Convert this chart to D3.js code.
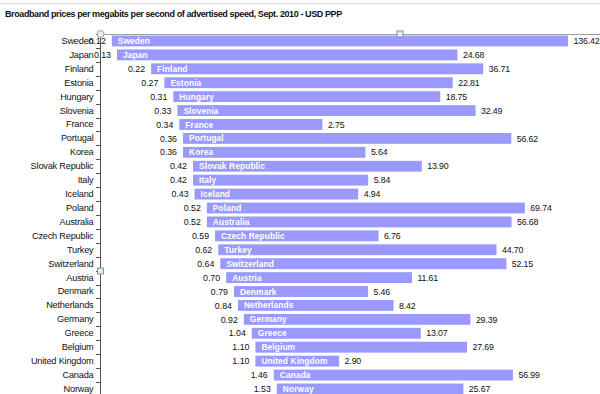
<!DOCTYPE html>
<html lang="en">
<head>
    <meta charset="UTF-8">
    <title>Broadband prices per Mbit/s</title>
    <script src="https://d3js.org/d3.v7.min.js"></script>
    <style>
        body { margin: 0; background: #fff; }
        svg { display: block; font-family: "Liberation Sans", Arial, sans-serif; }
    </style>
</head>
<body>
    <div id="chart"></div>
    <script>
        // countries in display order (top to bottom)
        const countries = ['Sweden', 'Japan', 'Finland', 'Estonia', 'Hungary', 'Slovenia', 'France',
            'Portugal', 'Korea', 'Slovak Republic', 'Italy', 'Iceland', 'Poland', 'Australia',
            'Czech Republic', 'Turkey', 'Switzerland', 'Austria', 'Denmark', 'Netherlands',
            'Germany', 'Greece', 'Belgium', 'United Kingdom', 'Canada', 'Norway'];
        // lowest price (left label, hidden stacked series)
        const lowPrice = [0.12, 0.13, 0.22, 0.27, 0.31, 0.33, 0.34, 0.36, 0.36, 0.42, 0.42, 0.43,
            0.52, 0.52, 0.59, 0.62, 0.64, 0.70, 0.79, 0.84, 0.92, 1.04, 1.10, 1.10, 1.46, 1.53];
        // highest price (right label, visible stacked series)
        const highPrice = [136.42, 24.68, 36.71, 22.81, 18.75, 32.49, 2.75, 56.62, 5.64, 13.90, 5.84, 4.94,
            69.74, 56.68, 6.76, 44.70, 52.15, 11.61, 5.46, 8.42, 29.39, 13.07, 27.69, 2.90, 56.99, 25.67];

        const W = 600, H = 394;
        const rowStep = 13.92;
        const plotTop = 34;

        const svg = d3.select('#chart').append('svg')
            .attr('width', W).attr('height', H);

        // faint sheet frame at the very top
        svg.append('line').attr('x1', 0).attr('x2', W).attr('y1', 3.5).attr('y2', 3.5)
            .attr('stroke', '#d3dae0');

        svg.append('text')
            .attr('x', 5).attr('y', 17)
            .attr('font-size', 9).attr('font-weight', 'bold').attr('fill', '#111')
            .attr('letter-spacing', -0.4)
            .text('Broadband prices per megabits per second of advertised speed, Sept. 2010 - USD PPP');

        const x = d3.scaleLog().domain([0.1, 1000]).range([100, 697]);
        const y = d3.scaleBand().domain(countries)
            .range([plotTop, plotTop + rowStep * countries.length])
            .paddingInner(0.22).paddingOuter(0.11);

        const rows = countries.map((c, i) => ({ name: c, low: lowPrice[i], high: highPrice[i] }));

        // plot area top border
        svg.append('line').attr('x1', 100).attr('x2', W).attr('y1', plotTop + 0.5).attr('y2', plotTop + 0.5)
            .attr('stroke', '#a0a0a0');

        const g = svg.append('g');
        g.selectAll('rect.bar').data(rows).enter().append('rect')
            .attr('class', 'bar')
            .attr('x', d => x(d.low))
            .attr('y', d => y(d.name))
            .attr('width', d => x(d.low + d.high) - x(d.low))
            .attr('height', y.bandwidth())
            .attr('fill', '#9999ff');

        // country name inside bar
        g.selectAll('text.inner').data(rows).enter().append('text')
            .attr('x', d => x(d.low) + 6)
            .attr('y', d => y(d.name) + y.bandwidth() / 2)
            .attr('dy', '0.36em')
            .attr('font-size', 8.4).attr('font-weight', 'bold').attr('fill', '#fff')
            .attr('letter-spacing', 0.1)
            .text(d => d.name);

        // low value label
        g.selectAll('text.low').data(rows).enter().append('text')
            .attr('x', d => x(d.low) - 6)
            .attr('y', d => y(d.name) + y.bandwidth() / 2)
            .attr('dy', '0.36em')
            .attr('text-anchor', 'end')
            .attr('font-size', 8.8).attr('fill', '#111')
            .text(d => d.low.toFixed(2));

        // high value label
        g.selectAll('text.high').data(rows).enter().append('text')
            .attr('x', d => x(d.low + d.high) + 5.5)
            .attr('y', d => y(d.name) + y.bandwidth() / 2)
            .attr('dy', '0.36em')
            .attr('font-size', 8.8).attr('fill', '#111')
            .attr('letter-spacing', -0.15)
            .text(d => d.high.toFixed(2));

        // category axis
        const yAxis = svg.append('g')
            .attr('transform', 'translate(100.5,0)')
            .call(d3.axisLeft(y).tickSize(0).tickPadding(7));
        yAxis.select('.domain').remove();
        yAxis.selectAll('text').attr('font-size', 9.2).attr('fill', '#111')
            .attr('letter-spacing', -0.2)
            .attr('font-family', '"Liberation Sans", Arial, sans-serif');

        svg.append('line').attr('x1', 100.5).attr('x2', 100.5).attr('y1', plotTop).attr('y2', H)
            .attr('stroke', '#555');
        // tick marks between categories
        svg.selectAll('line.tick').data(d3.range(countries.length + 1)).enter().append('line')
            .attr('x1', 96).attr('x2', 100)
            .attr('y1', i => Math.round(plotTop + i * rowStep) + 0.5)
            .attr('y2', i => Math.round(plotTop + i * rowStep) + 0.5)
            .attr('stroke', '#555');

        // selection handles
        svg.append('circle').attr('cx', 100.5).attr('cy', plotTop).attr('r', 3.5)
            .attr('fill', '#e4eef4').attr('stroke', '#8aa0b0');
        [[400, plotTop], [100.5, 271]].forEach(p => {
            svg.append('rect').attr('x', p[0] - 3).attr('y', p[1] - 3)
                .attr('width', 6).attr('height', 6)
                .attr('fill', '#dcecf6').attr('stroke', '#7f98aa');
        });
    </script>
</body>
</html>
